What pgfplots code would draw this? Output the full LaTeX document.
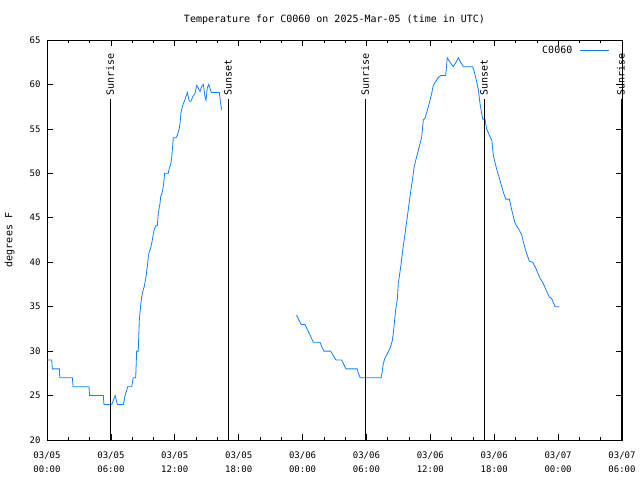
\documentclass[border=0pt]{standalone}
\usepackage{pgfplots}
\pgfplotsset{compat=1.18}
\usepackage{fontspec}
\setmainfont{DejaVu Sans Mono}
\definecolor{gpblue}{RGB}{16,128,255}
\begin{document}
\begin{tikzpicture}[x=1pt,y=1pt]
\useasboundingbox (0,0) rectangle (640,480);
\begin{axis}[
  at={(47pt,40pt)}, anchor=south west,
  width=575pt, height=400pt, scale only axis,
  xmin=0, xmax=54, ymin=20, ymax=65,
  clip=false,
  font=\fontsize{10}{12}\selectfont,
  /pgf/number format/assume math mode=true,
  axis line style={line width=0.8pt},
  tick style={black, line width=0.6pt},
  tick align=inside,
  major tick length=6pt, minor tick length=3pt,
  xtick={0,6,...,54},
  minor x tick num=2,
  xticklabels={{03/05\\00:00},{03/05\\06:00},{03/05\\12:00},{03/05\\18:00},{03/06\\00:00},{03/06\\06:00},{03/06\\12:00},{03/06\\18:00},{03/07\\00:00},{03/07\\06:00}},
  x tick label style={align=center, font=\fontsize{9}{14}\selectfont, yshift=-8pt},
  ytick={20,25,...,65},
  y tick label style={font=\fontsize{9}{10}\selectfont, xshift=-3pt},
  ylabel={degrees F},
  ylabel style={at={(axis description cs:-0.065,0.5)}, anchor=center, rotate=0, font=\fontsize{10}{12}\selectfont},
  title={Temperature for C0060 on 2025-Mar-05 (time in UTC)},
  title style={at={(axis description cs:0.5,1)}, anchor=base, yshift=11pt, font=\fontsize{10}{12}\selectfont},
  legend plot pos=right,
  legend style={at={(rel axis cs:0.979,0.99)}, anchor=north east, draw=none, fill=none, inner sep=0pt, font=\fontsize{10}{12}\selectfont},
  legend image code/.code={\path[draw=none] (0pt,0pt) -- (6pt,0pt); \draw[#1] (6pt,0pt) -- (35pt,0pt);},
  unbounded coords=jump,
]
\addplot[gpblue, line width=0.8pt] table {
x y
0.0 29
0.44 29
0.5 28
1.16 28
1.2 27
2.38 27
2.45 26
3.94 26
4.0 25
5.29 25
5.35 24
6.08 24
6.41 25
6.6 24
7.17 24
7.33 25
7.58 26
7.95 26
8.1 27
8.33 27
8.42 30
8.57 30
8.67 33.5
8.8 35.2
8.89 36.1
9.04 36.9
9.14 37.3
9.3 38.4
9.42 39.5
9.51 40.6
9.61 41.2
9.74 41.6
9.86 42.3
10.05 43.6
10.21 44.1
10.36 44.1
10.45 45.5
10.61 46.6
10.68 47.4
10.83 47.9
10.92 48.5
11.05 50.0
11.39 50.0
11.49 50.6
11.62 51.0
11.71 51.7
11.81 53.2
11.86 54.0
12.11 54.0
12.24 54.3
12.4 54.9
12.49 55.6
12.58 56.8
12.71 57.5
12.89 58.1
13.05 58.6
13.18 59.1
13.27 58.6
13.36 58.1
13.52 58.1
13.68 58.6
13.9 59.0
14.06 59.9
14.21 59.6
14.37 59.2
14.53 59.8
14.68 60.0
14.84 58.6
14.93 58.2
15.05 59.6
15.19 60.0
15.43 59.1
16.18 59.1
16.28 58.1
16.41 57.1
20.0 nan
23.38 34.0
23.51 33.9
23.69 33.4
23.88 33.0
24.23 33.0
24.39 32.6
24.7 31.8
25.01 31.0
25.64 31.0
25.8 30.5
26.01 30.0
26.64 30.0
26.83 29.6
27.14 29.0
27.68 29.0
27.83 28.6
28.08 28.0
29.14 28.0
29.24 27.5
29.42 27.0
31.37 27.0
31.46 27.5
31.58 28.6
31.74 29.2
31.96 29.7
32.28 30.5
32.43 31.2
32.52 32.0
32.65 33.5
32.78 35.0
32.9 35.8
32.99 37.6
33.22 39.5
33.41 41.4
33.62 43.2
33.84 45.1
34.09 47.4
34.31 49.2
34.49 50.8
34.72 51.9
34.96 53.0
35.19 54.1
35.34 56.0
35.5 56.2
35.72 57.1
35.97 58.2
36.13 59.0
36.28 59.9
36.44 60.2
36.75 60.8
37.0 61.0
37.44 61.0
37.59 63.0
37.85 62.5
38.16 62.0
38.41 62.5
38.63 63.0
38.85 62.5
39.1 62.0
39.98 62.0
40.13 61.4
40.36 60.3
40.51 59.4
40.67 57.8
40.92 56.1
41.13 56.1
41.29 55.0
41.54 54.3
41.77 53.75
41.92 52.0
42.2 50.6
42.54 49.2
42.85 47.9
43.08 47.1
43.42 47.1
43.64 45.9
43.95 44.4
44.26 43.8
44.58 43.1
44.73 42.3
44.98 41.2
45.3 40.1
45.61 40.0
45.92 39.3
46.3 38.2
46.61 37.6
46.86 36.9
47.17 36.1
47.4 35.9
47.71 35.0
48.11 35.0
};
\addlegendentry{C0060}
\addplot[black, line width=0.8pt, forget plot] coordinates {(5.92,20) (5.92,58.36)};
\addplot[black, line width=0.8pt, forget plot] coordinates {(17.0,20) (17.0,58.36)};
\addplot[black, line width=0.8pt, forget plot] coordinates {(29.87,20) (29.87,58.36)};
\addplot[black, line width=0.8pt, forget plot] coordinates {(41.04,20) (41.04,58.36)};
\addplot[black, line width=0.8pt, forget plot] coordinates {(53.9,20) (53.9,58.36)};
\node[rotate=90, anchor=west, inner sep=3.5pt, font=\fontsize{10}{12}\selectfont] at (axis cs:5.92,58.36) {Sunrise};
\node[rotate=90, anchor=west, inner sep=3.5pt, font=\fontsize{10}{12}\selectfont] at (axis cs:17.0,58.36) {Sunset};
\node[rotate=90, anchor=west, inner sep=3.5pt, font=\fontsize{10}{12}\selectfont] at (axis cs:29.87,58.36) {Sunrise};
\node[rotate=90, anchor=west, inner sep=3.5pt, font=\fontsize{10}{12}\selectfont] at (axis cs:41.04,58.36) {Sunset};
\node[rotate=90, anchor=west, inner sep=3.5pt, font=\fontsize{10}{12}\selectfont] at (axis cs:53.9,58.36) {Sunrise};
\end{axis}
\end{tikzpicture}
\end{document}
